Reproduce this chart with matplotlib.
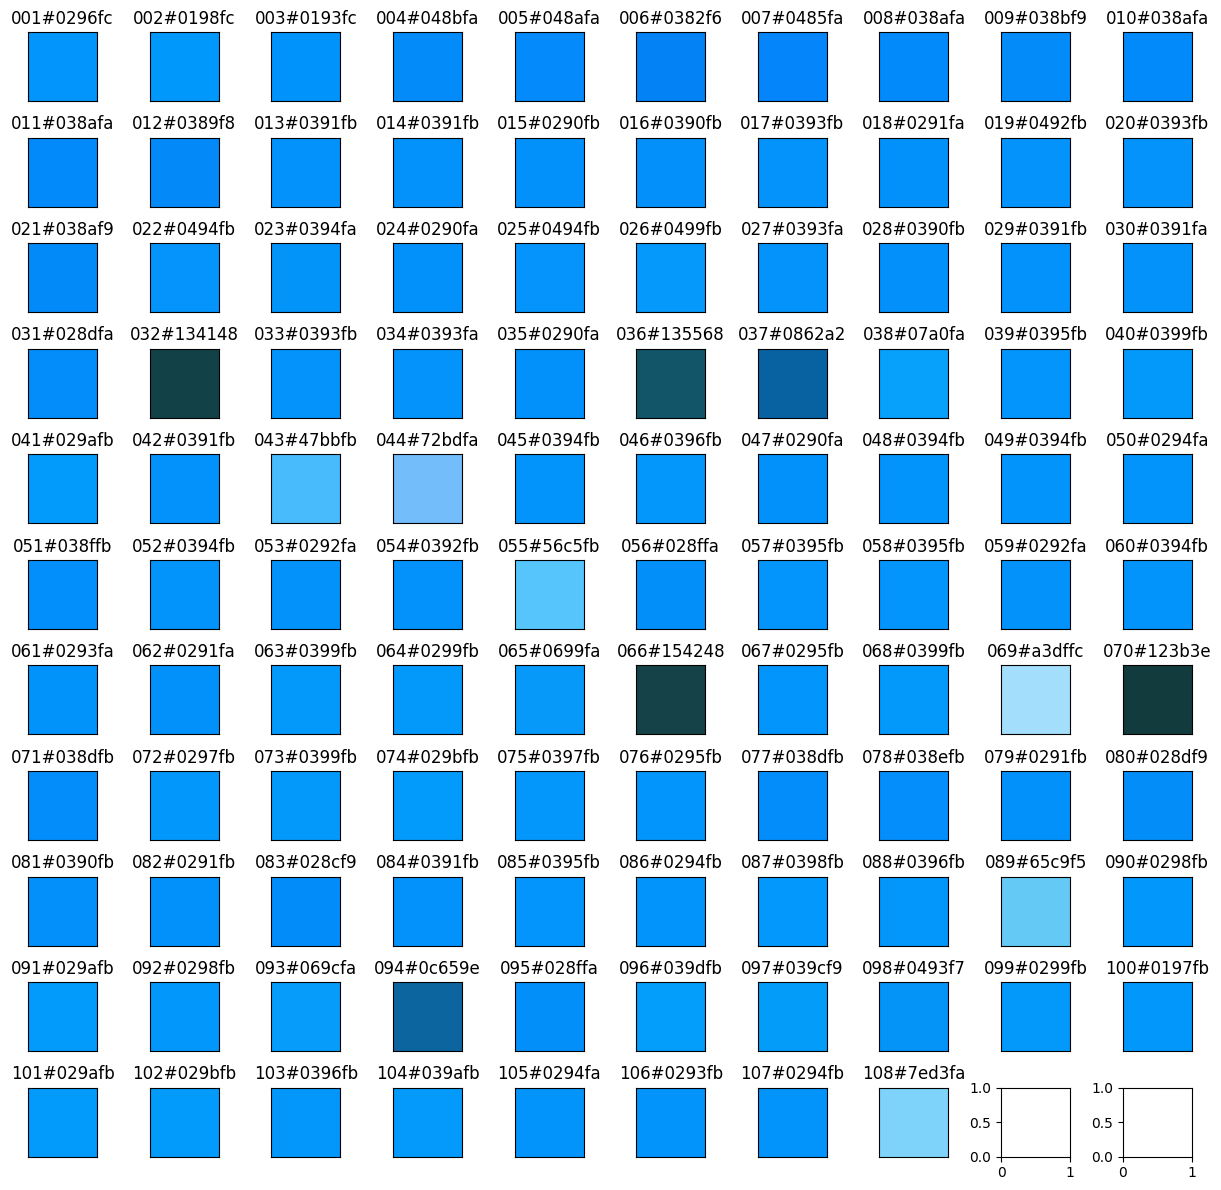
import matplotlib
matplotlib.use("Agg")
import matplotlib.pyplot as plt

# sampled colours, in order 001..108
colors = [
    "#0296fc", "#0198fc", "#0193fc", "#048bfa", "#048afa", "#0382f6", "#0485fa", "#038afa", "#038bf9", "#038afa",
    "#038afa", "#0389f8", "#0391fb", "#0391fb", "#0290fb", "#0390fb", "#0393fb", "#0291fa", "#0492fb", "#0393fb",
    "#038af9", "#0494fb", "#0394fa", "#0290fa", "#0494fb", "#0499fb", "#0393fa", "#0390fb", "#0391fb", "#0391fa",
    "#028dfa", "#134148", "#0393fb", "#0393fa", "#0290fa", "#135568", "#0862a2", "#07a0fa", "#0395fb", "#0399fb",
    "#029afb", "#0391fb", "#47bbfb", "#72bdfa", "#0394fb", "#0396fb", "#0290fa", "#0394fb", "#0394fb", "#0294fa",
    "#038ffb", "#0394fb", "#0292fa", "#0392fb", "#56c5fb", "#028ffa", "#0395fb", "#0395fb", "#0292fa", "#0394fb",
    "#0293fa", "#0291fa", "#0399fb", "#0299fb", "#0699fa", "#154248", "#0295fb", "#0399fb", "#a3dffc", "#123b3e",
    "#038dfb", "#0297fb", "#0399fb", "#029bfb", "#0397fb", "#0295fb", "#038dfb", "#038efb", "#0291fb", "#028df9",
    "#0390fb", "#0291fb", "#028cf9", "#0391fb", "#0395fb", "#0294fb", "#0398fb", "#0396fb", "#65c9f5", "#0298fb",
    "#029afb", "#0298fb", "#069cfa", "#0c659e", "#028ffa", "#039dfb", "#039cf9", "#0493f7", "#0299fb", "#0197fb",
    "#029afb", "#029bfb", "#0396fb", "#039afb", "#0294fa", "#0293fb", "#0294fb", "#7ed3fa",
]
labels = ["%03d%s" % (i + 1, c) for i, c in enumerate(colors)]

nrows, ncols = 11, 10
fig, axes = plt.subplots(nrows, ncols, figsize=(12.21, 11.9), dpi=100)
fig.subplots_adjust(left=0.023, right=0.976, top=0.973, bottom=0.028,
                    wspace=0.764, hspace=0.53)

axes = axes.flatten()
for i, c in enumerate(colors):
    ax = axes[i]
    ax.set_facecolor(c)
    ax.set_xticks([])
    ax.set_yticks([])
    ax.set_title(labels[i], fontsize=12)

fig.savefig("out.png", dpi=100)
